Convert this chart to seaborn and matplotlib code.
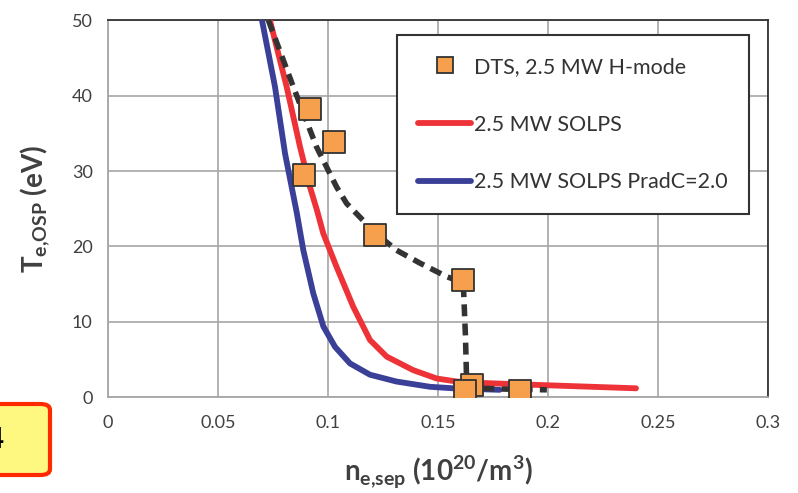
import numpy as np
import pandas as pd
import seaborn as sns
import matplotlib
matplotlib.use('Agg')
from matplotlib import pyplot as plt
from matplotlib.lines import Line2D
from matplotlib.patches import FancyBboxPatch

# DTS measurements, 2.5 MW H-mode
dts_ne = [0.0918, 0.1029, 0.0892, 0.1215, 0.1615, 0.1653, 0.1624, 0.1873]
dts_te = [38.2, 33.8, 29.5, 21.5, 15.5, 1.7, 0.8, 0.8]

# dashed guide through the DTS points
guide_ne = [0.0729, 0.0842, 0.0948, 0.1039, 0.1085, 0.1145, 0.1215, 0.1312,
            0.1418, 0.1540, 0.1615, 0.1625, 0.1630, 0.1645, 0.1700, 0.1800, 0.1995]
guide_te = [50.0, 41.2, 33.2, 27.9, 25.7, 23.9, 21.8, 19.5,
            17.8, 16.0, 15.2, 8.0, 2.3, 1.4, 1.2, 1.1, 1.0]

# 2.5 MW SOLPS
solps_ne = [0.0736, 0.0812, 0.0873, 0.0918, 0.0950, 0.0979, 0.1039, 0.1115,
            0.1191, 0.1267, 0.1388, 0.1494, 0.1585, 0.1706, 0.2000, 0.2400]
solps_te = [50.0, 41.2, 33.2, 27.9, 24.8, 21.7, 17.3, 12.0,
            7.6, 5.4, 3.6, 2.5, 2.1, 1.9, 1.6, 1.2]

# 2.5 MW SOLPS PradC=2.0
pradc_ne = [0.0700, 0.0759, 0.0805, 0.0858, 0.0888, 0.0933, 0.0979, 0.1032,
            0.1100, 0.1191, 0.1311, 0.1464, 0.1570, 0.1780]
pradc_te = [50.0, 41.2, 32.3, 24.5, 19.5, 13.8, 9.4, 6.7,
            4.5, 3.0, 2.1, 1.4, 1.2, 1.0]

labels = ['DTS, 2.5 MW H-mode', '2.5 MW SOLPS', '2.5 MW SOLPS PradC=2.0']

red = '#ee3338'
blue = '#3a3f98'
orange = '#f6a04d'
dark = '#333333'
grey = '#a6a6a6'
txt = '#404040'

sns.set_style('white')
plt.rcParams['font.family'] = ['Lato', 'DejaVu Sans']
plt.rcParams['mathtext.fontset'] = 'custom'
plt.rcParams['mathtext.rm'] = 'Lato'
plt.rcParams['mathtext.bf'] = 'Lato:bold'

fig = plt.figure(figsize=(7.98, 4.93), dpi=100)
ax = fig.add_axes([0.1353, 0.194, 0.8271, 0.765])

sns.lineplot(x=pradc_ne, y=pradc_te, sort=False, estimator=None, ax=ax,
             color=blue, lw=4.2, solid_capstyle='round', solid_joinstyle='round',
             zorder=3)
sns.lineplot(x=solps_ne, y=solps_te, sort=False, estimator=None, ax=ax,
             color=red, lw=4.2, solid_capstyle='round', solid_joinstyle='round',
             zorder=4)
sns.lineplot(x=guide_ne, y=guide_te, sort=False, estimator=None, ax=ax,
             color=dark, lw=4.0, linestyle=(0, (2.15, 1.3)), zorder=5)
sns.scatterplot(x=dts_ne, y=dts_te, ax=ax, marker='s', s=250, color=orange,
                edgecolor=dark, linewidth=1.3, zorder=6)

ax.set_xlim(0, 0.3)
ax.set_ylim(0, 50)
ax.set_xticks(np.arange(0, 0.31, 0.05))
ax.set_xticklabels(['0', '0.05', '0.1', '0.15', '0.2', '0.25', '0.3'])
ax.set_yticks(np.arange(0, 51, 10))
ax.grid(True, color=grey, lw=1.2)
ax.set_axisbelow(True)
for s in ['left', 'bottom']:
    ax.spines[s].set_color(grey)
    ax.spines[s].set_linewidth(1.3)
for s in ['top', 'right']:
    ax.spines[s].set_color(dark)
    ax.spines[s].set_linewidth(1.3)
ax.tick_params(axis='both', direction='out', length=5, width=1.2, color=grey,
               labelsize=13, labelcolor=txt, pad=8)
ax.tick_params(axis='y', pad=6)

ax.set_xlabel(r'$\mathbf{n}_{\mathbf{e{,}sep}}$ (10$^{\mathbf{20}}$/m$^{\mathbf{3}}$)',
              fontsize=20, fontweight='bold', color=txt, labelpad=16)
ax.set_ylabel(r'$\mathbf{T}_{\mathbf{e{,}OSP}}$ (eV)', fontsize=20,
              fontweight='bold', color=txt, labelpad=14)

handles = [
    Line2D([], [], ls='none', marker='s', ms=11, mfc=orange, mec=dark, mew=1.3),
    Line2D([], [], color=red, lw=4.2, solid_capstyle='round'),
    Line2D([], [], color=blue, lw=4.2, solid_capstyle='round'),
]
leg = ax.legend(handles, labels, loc='upper left', bbox_to_anchor=(0.4374, 0.960),
                borderaxespad=0, borderpad=1.0, labelspacing=1.75,
                handlelength=2.45, handletextpad=0.15, fontsize=15.5,
                frameon=True, fancybox=False, framealpha=1)
leg.get_frame().set_edgecolor(dark)
leg.get_frame().set_linewidth(1.5)
for t in leg.get_texts():
    t.set_color(dark)
leg.set_zorder(10)

# cut-off panel label in the lower left corner
box = FancyBboxPatch((-60 / 798, 1 - 475 / 493), 110 / 798, 71 / 493,
                     boxstyle='round,pad=0,rounding_size=0.012',
                     transform=fig.transFigure, facecolor='#fff880',
                     edgecolor='#ff2a00', lw=3, clip_on=False)
fig.patches.append(box)
fig.text(4 / 798, 1 - 440 / 493, '4', ha='right', va='center', fontsize=20,
         fontweight='bold', color='black')

fig.savefig('out.png', dpi=100)
